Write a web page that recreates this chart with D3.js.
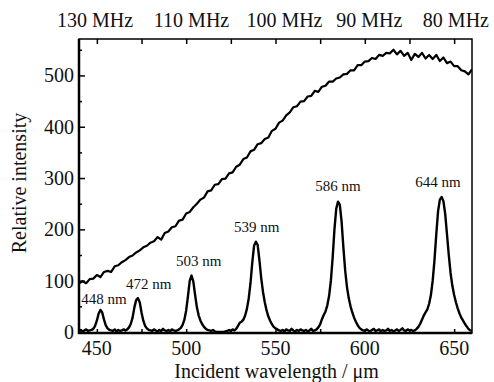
<!DOCTYPE html>
<html>
<head>
<meta charset="utf-8">
<script src="https://cdn.jsdelivr.net/npm/d3@7"></script>
<style>
  body { margin: 0; background: #fff; }
  svg text { font-family: "Liberation Serif", "DejaVu Serif", serif; fill: #111; }
</style>
</head>
<body>
<div id="chart"></div>
<script>
// Broad excitation curve, sampled every 2 nm from 440 nm
const broadStart = 440
const broadStep = 2
const broadValues = [
  95, 99, 95, 103, 104, 111, 107, 117, 119, 117,
  128, 130, 136, 140, 146, 149, 155, 159, 165, 168,
  174, 177, 185, 180, 193, 196, 204, 206, 217, 219,
  231, 234, 243, 250, 258, 262, 274, 276, 287, 288,
  298, 299, 309, 311, 322, 326, 337, 340, 352, 355,
  366, 368, 376, 379, 392, 396, 408, 412, 422, 428,
  438, 440, 449, 450, 459, 460, 470, 468, 478, 480,
  488, 488, 494, 496, 502, 503, 510, 510, 520, 520,
  527, 528, 534, 532, 540, 538, 544, 543, 550, 541,
  548, 538, 544, 530, 542, 536, 544, 533, 540, 532,
  540, 528, 535, 524, 527, 518, 518, 510, 508, 502,
  512
]

// Filtered peaks, sampled every 1 nm from 440 nm
const peakStart = 440
const peakStep = 1
const peakValues = [
  2, 4, 1, 3, 5, 2,
  3, 4, 6, 12, 22, 36, 43, 38, 24, 13, 7, 4, 3,
  2, 5, 1, 4, 2, 3, 5,
  3, 5, 9, 16, 28, 48, 62, 66, 58, 38, 22, 12, 7, 4, 3,
  2, 5, 3, 1, 4, 2, 6, 3, 2, 4, 1, 5, 3, 2,
  3, 5, 8, 14, 24, 42, 70, 100, 110, 98, 72, 48, 32, 22, 15, 10, 6, 4,
  3, 2, 4, 1, 0, 0, 0, 0, 0, 1, 2, 4, 2, 5,
  3, 6, 12, 18, 20, 24, 32, 45, 65, 95, 135, 168, 176, 170, 140, 105, 78, 58, 42, 30, 22, 15, 10, 7, 5, 3,
  2, 4, 1, 5, 3, 2, 6, 3, 1, 4, 2, 5, 3, 2, 4, 1, 3, 6, 2,
  3, 5, 9, 15, 25, 33, 40, 52, 70, 100, 145, 200, 240, 254, 248, 215, 165, 120, 88, 66, 50, 38, 28, 20, 13, 8, 5, 3,
  2, 5, 3, 1, 4, 6, 2, 3, 5, 1, 4, 2, 3, 6, 2, 4, 1, 3, 5, 2, 4, 7, 3, 2, 5, 3, 4, 2,
  3, 6, 10, 16, 24, 32, 38, 44, 55, 72, 100, 140, 190, 235, 258, 263, 255, 230, 190, 150, 115, 90, 72, 58, 46, 36, 28, 22, 16, 11, 6, 3, 2
]

// Peak annotations
const peakLabels = ["448 nm", "472 nm", "503 nm", "539 nm", "586 nm", "644 nm"]
const peakLabelX = [454, 479, 507, 539.5, 585, 641]
const peakLabelY = [54, 83, 128, 194, 275, 283]

// Top frequency labels
const topLabels = ["130 MHz", "110 MHz", "100 MHz", "90 MHz", "80 MHz"]
const topLabelX = [449, 503, 555, 602.5, 651]

const xTicks = [450, 500, 550, 600, 650]
const yTicks = [0, 100, 200, 300, 400, 500]

const width = 494, height = 382
const mLeft = 79, mRight = 472, mTop = 39, mBottom = 333

const svg = d3.select("#chart").append("svg")
  .attr("width", width)
  .attr("height", height)
  .attr("font-family", "Liberation Serif, serif")

const x = d3.scaleLinear().domain([440, 660]).range([mLeft, mRight])
const y = d3.scaleLinear().domain([-2, 571]).range([mBottom, mTop])

svg.append("clipPath").attr("id", "plot")
  .append("rect")
  .attr("x", mLeft).attr("y", mTop - 2)
  .attr("width", mRight - mLeft).attr("height", mBottom - mTop + 2)

// Curves
const broad = broadValues.map((v, i) => [broadStart + i * broadStep, v])
const peaks = peakValues.map((v, i) => [peakStart + i * peakStep, v])

const line = d3.line()
  .x(d => x(d[0]))
  .y(d => y(d[1]))

const plot = svg.append("g").attr("clip-path", "url(#plot)")
plot.append("path")
  .datum(broad)
  .attr("d", line)
  .attr("fill", "none")
  .attr("stroke", "#000")
  .attr("stroke-width", 2.2)
  .attr("stroke-linejoin", "round")
plot.append("path")
  .datum(peaks)
  .attr("d", line)
  .attr("fill", "none")
  .attr("stroke", "#000")
  .attr("stroke-width", 2.4)
  .attr("stroke-linejoin", "round")

// Axes, ticks pointing inward
const tickVals = d3.range(450, 651, 25)
svg.append("g")
  .attr("transform", "translate(0," + mTop + ")")
  .call(d3.axisBottom(x).tickValues(tickVals).tickSize(5).tickFormat(""))
  .call(g => g.select(".domain").remove())
  .selectAll("line").attr("stroke-width", 1.5)

svg.append("g")
  .attr("transform", "translate(0," + mBottom + ")")
  .call(d3.axisTop(x).tickValues(tickVals).tickSize(4).tickFormat(""))
  .call(g => g.select(".domain").remove())
  .selectAll("line").attr("stroke-width", 1.5)

svg.append("g")
  .attr("transform", "translate(" + mLeft + ",0)")
  .call(d3.axisRight(y).tickValues(d3.range(50, 551, 100)).tickSize(3).tickFormat(""))
  .call(g => g.select(".domain").remove())
  .selectAll("line").attr("stroke-width", 1.5)

svg.append("g")
  .attr("transform", "translate(" + mLeft + ",0)")
  .call(d3.axisRight(y).tickValues(yTicks).tickSize(6).tickFormat(""))
  .call(g => g.select(".domain").remove())
  .selectAll("line").attr("stroke-width", 1.5)

// Frame
svg.append("rect")
  .attr("x", mLeft).attr("y", mTop)
  .attr("width", mRight - mLeft).attr("height", mBottom - mTop)
  .attr("fill", "none")
  .attr("stroke", "#000")
  .attr("stroke-width", 1.5)
svg.append("path")
  .attr("d", "M" + mLeft + "," + mTop + "V" + mBottom + "H" + mRight)
  .attr("fill", "none")
  .attr("stroke", "#000")
  .attr("stroke-width", 2.5)

// Tick labels
svg.append("g").selectAll("text")
  .data(yTicks)
  .join("text")
  .attr("x", mLeft - 5)
  .attr("y", d => y(d))
  .attr("dy", "0.35em")
  .attr("text-anchor", "end")
  .style("font-size", "20px")
  .text(d => d)

svg.append("g").selectAll("text")
  .data(xTicks)
  .join("text")
  .attr("x", d => x(d))
  .attr("y", 355)
  .attr("text-anchor", "middle")
  .style("font-size", "20px")
  .text(d => d)

svg.append("g").selectAll("text")
  .data(topLabels)
  .join("text")
  .attr("x", (d, i) => x(topLabelX[i]))
  .attr("y", 27)
  .attr("text-anchor", "middle")
  .style("font-size", "20px")
  .text(d => d)

svg.append("g").selectAll("text")
  .data(peakLabels)
  .join("text")
  .attr("x", (d, i) => x(peakLabelX[i]))
  .attr("y", (d, i) => y(peakLabelY[i]))
  .attr("text-anchor", "middle")
  .style("font-size", "15px")
  .text(d => d)

// Axis titles
svg.append("text")
  .attr("x", (mLeft + mRight) / 2 + 1)
  .attr("y", 378)
  .attr("text-anchor", "middle")
  .style("font-size", "20px")
  .text("Incident wavelength / μm")

svg.append("text")
  .attr("transform", "translate(26,183) rotate(-90)")
  .attr("text-anchor", "middle")
  .style("font-size", "20px")
  .text("Relative intensity")
</script>
</body>
</html>
